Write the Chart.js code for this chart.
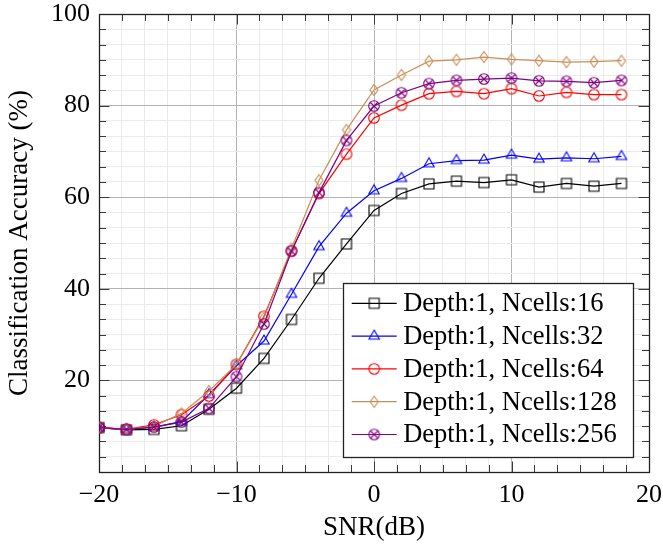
<!DOCTYPE html>
<html><head><meta charset="utf-8">
<script src="https://cdn.jsdelivr.net/npm/chart.js@4/dist/chart.umd.min.js"></script>
<style>html,body{margin:0;padding:0;background:#fff;overflow:hidden}</style>
</head><body>
<canvas id="c" width="663" height="548"></canvas>
<script>
// ---- data ----
const snr = [-20,-18,-16,-14,-12,-10,-8,-6,-4,-2,0,2,4,6,8,10,12,14,16,18];
const acc16  = [9.7,9.2,9.3,10.1,13.7,18.3,24.8,33.3,42.3,49.8,57.1,60.8,62.9,63.5,63.2,63.8,62.2,63.0,62.4,63.0];
const acc32  = [9.7,9.3,9.8,11.0,16.9,23.2,28.6,38.8,49.2,56.5,61.4,64.1,67.3,68.0,68.1,69.2,68.3,68.6,68.4,68.9];
const acc64  = [9.7,9.3,10.3,12.5,16.6,23.5,34.0,48.3,60.8,69.4,77.3,80.1,82.6,83.1,82.6,83.7,82.1,82.9,82.4,82.4];
const acc128 = [9.7,9.3,10.0,12.8,17.7,23.5,33.7,48.8,63.7,74.7,83.4,86.7,89.7,90.0,90.6,90.1,89.8,89.5,89.6,89.8];
const acc256 = [9.7,9.3,9.8,10.9,13.9,20.8,32.3,48.2,61.0,72.4,79.9,82.8,84.8,85.5,85.8,86.0,85.4,85.3,85.0,85.5];
const seriesLabels = ['Depth:1, Ncells:16','Depth:1, Ncells:32','Depth:1, Ncells:64','Depth:1, Ncells:128','Depth:1, Ncells:256'];
const xMajorTicks = [-20,-10,0,10,20];
const yMajorTicks = [0,20,40,60,80,100];
const yLabelledTicks = [20,40,60,80,100];
const minorPerMajor = 5;

// ---- styles ----
const FONT = "'Liberation Serif', 'Times New Roman', serif";
const colors = ['#000000','#0000ff','#ff0000','#c98e56','#800080'];
const markerTypes = ['square','triangle','circle','diamond','otimes'];

function makeMarker(type, color) {
  const s = 16, m = s/2;
  const c = document.createElement('canvas'); c.width = s; c.height = s;
  const g = c.getContext('2d');
  g.strokeStyle = color; g.lineWidth = 1.1;
  g.beginPath();
  if (type === 'square') { g.rect(m-5, m-5, 10, 10); }
  else if (type === 'triangle') { const r = 6; g.moveTo(m, m-r); g.lineTo(m+r*0.866, m+r*0.5); g.lineTo(m-r*0.866, m+r*0.5); g.closePath(); }
  else if (type === 'circle') { g.arc(m, m, 5.3, 0, Math.PI*2); }
  else if (type === 'diamond') { g.moveTo(m, m-5.5); g.lineTo(m+4, m); g.lineTo(m, m+5.5); g.lineTo(m-4, m); g.closePath(); }
  else if (type === 'otimes') {
    g.arc(m, m, 5.3, 0, Math.PI*2);
    const d = 5.3*0.7071;
    g.moveTo(m-d, m-d); g.lineTo(m+d, m+d); g.moveTo(m+d, m-d); g.lineTo(m-d, m+d);
  }
  g.stroke();
  return c;
}
const markers = markerTypes.map((t,i)=>makeMarker(t, colors[i]));

function buildTicks(majors) {
  const out = [];
  for (let i = 0; i < majors.length; i++) {
    out.push({value: majors[i]});
    if (i < majors.length-1) {
      const step = (majors[i+1]-majors[i])/(minorPerMajor+1);
      for (let k = 1; k <= minorPerMajor; k++) out.push({value: majors[i] + k*step});
    }
  }
  return out;
}
const isIn = (arr, v) => arr.some(a => Math.abs(a - v) < 1e-6);
const fmt = v => (v < 0 ? '\u2212' + Math.abs(v) : String(v));

const allSeries = [acc16, acc32, acc64, acc128, acc256];
const datasets = allSeries.map((arr, i) => ({
  label: seriesLabels[i],
  data: snr.map((x, j) => ({x, y: arr[j]})),
  borderColor: colors[i],
  backgroundColor: colors[i],
  borderWidth: 1.2,
  pointStyle: markers[i],
  pointRadius: 5,
  tension: 0,
  order: 5 - i
}));

const frameTicks = {
  id: 'frameTicks',
  beforeDatasetsDraw(chart) {
    const {ctx, chartArea: ca, scales: {x, y}} = chart;
    ctx.save();
    ctx.strokeStyle = '#3a3a3a'; ctx.lineWidth = 1;
    ctx.beginPath();
    x.ticks.forEach(t => {
      const p = Math.round(x.getPixelForValue(t.value)) + 0.5;
      const L = isIn(xMajorTicks, t.value) ? 10.5 : 7;
      ctx.moveTo(p, ca.bottom); ctx.lineTo(p, ca.bottom - L);
      ctx.moveTo(p, ca.top); ctx.lineTo(p, ca.top + L);
    });
    y.ticks.forEach(t => {
      const p = Math.round(y.getPixelForValue(t.value)) + 0.5;
      const L = isIn(yMajorTicks, t.value) ? 10.5 : 7;
      ctx.moveTo(ca.left, p); ctx.lineTo(ca.left + L, p);
      ctx.moveTo(ca.right, p); ctx.lineTo(ca.right - L, p);
    });
    ctx.stroke();
    ctx.strokeStyle = '#222'; ctx.lineWidth = 1.3;
    ctx.strokeRect(Math.round(ca.left)+0.5, Math.round(ca.top)+0.5, Math.round(ca.right-ca.left), Math.round(ca.bottom-ca.top));
    ctx.restore();
  },
  afterDraw(chart) {
    const {ctx, chartArea: ca} = chart;
    const bx = ca.right - 306.3, by = ca.bottom - 188.7;
    const bw = 290, bh = 174;
    ctx.save();
    ctx.fillStyle = '#fff';
    ctx.fillRect(bx, by, bw, bh);
    ctx.strokeStyle = '#222'; ctx.lineWidth = 1.3;
    ctx.strokeRect(Math.round(bx)+0.5, Math.round(by)+0.5, bw, bh);
    ctx.font = '26.5px ' + FONT;
    ctx.textBaseline = 'middle'; ctx.textAlign = 'left';
    chart.data.datasets.forEach((ds, i) => {
      const ry = by + 20 + i*32.8;
      ctx.strokeStyle = ds.borderColor; ctx.lineWidth = 1.2;
      ctx.beginPath(); ctx.moveTo(bx + 9, ry); ctx.lineTo(bx + 54, ry); ctx.stroke();
      ctx.drawImage(ds.pointStyle, bx + 31.5 - 8, ry - 8);
      ctx.fillStyle = '#000';
      ctx.fillText(ds.label, bx + 60.5, ry + 1);
    });
    ctx.restore();
  }
};

Chart.defaults.color = '#000';
Chart.defaults.font.family = FONT;

new Chart(document.getElementById('c'), {
  type: 'line',
  data: {datasets},
  options: {
    responsive: false, animation: false, devicePixelRatio: 1,
    layout: {padding: {top: 14, right: 14, left: 0, bottom: 0}},
    plugins: {legend: {display: false}, tooltip: {enabled: false}},
    scales: {
      x: {
        type: 'linear', min: -20, max: 20,
        afterBuildTicks: s => { s.ticks = buildTicks(xMajorTicks); },
        afterFit: s => { s.height = 76; s.paddingLeft = 0; s.paddingRight = 0; },
        grid: {drawTicks: false, color: c => isIn(xMajorTicks, c.tick.value) ? '#b3b3b3' : '#ebebeb', lineWidth: 1},
        border: {display: false},
        ticks: {autoSkip: false, maxRotation: 0, padding: 8, font: {size: 26, family: FONT},
          callback: v => isIn(xMajorTicks, v) ? fmt(Math.round(v)) : ''},
        title: {display: true, text: 'SNR(dB)', font: {size: 27, family: FONT}, padding: {top: 0, bottom: 4}}
      },
      y: {
        type: 'linear', min: 0, max: 100,
        afterBuildTicks: s => { s.ticks = buildTicks(yMajorTicks); },
        afterFit: s => { s.width = 99; s.paddingTop = 0; s.paddingBottom = 0; },
        grid: {drawTicks: false, color: c => isIn(yMajorTicks, c.tick.value) ? '#b3b3b3' : '#ebebeb', lineWidth: 1},
        border: {display: false},
        ticks: {autoSkip: false, padding: 9, font: {size: 26, family: FONT},
          callback: v => isIn(yLabelledTicks, v) ? fmt(Math.round(v)) : ''},
        title: {display: true, text: 'Classification Accuracy (%)', font: {size: 27, family: FONT}, padding: {top: 4, bottom: 0}}
      }
    }
  },
  plugins: [frameTicks]
});
</script>
</body></html>
